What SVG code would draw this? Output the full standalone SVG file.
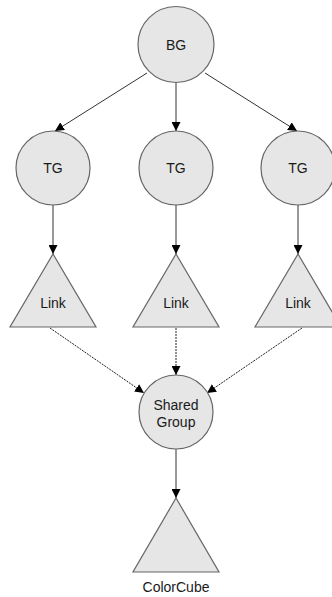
<svg xmlns="http://www.w3.org/2000/svg" width="332" height="597" viewBox="0 0 332 597">
  <style>
    .shape { fill: #e6e6e6; stroke: #666666; stroke-width: 1.2; }
    .label { font-family: "Liberation Sans", Arial, sans-serif; font-size: 14px; fill: #1a1a1a; text-anchor: middle; }
    .edge { fill: none; stroke: #333333; stroke-width: 1; }
    .ref { stroke: #222222; stroke-dasharray: 2 1; }
  </style>
  <defs>
    <marker id="arrow" viewBox="0 0 10 10" refX="10" refY="5" markerUnits="userSpaceOnUse" markerWidth="9" markerHeight="9" orient="auto">
      <path d="M0,0 L10,5 L0,10 z" fill="#000000"/>
    </marker>
  </defs>
  <rect width="332" height="597" fill="#ffffff"/>

  <g id="connectors">
    <line class="edge" x1="147" y1="73" x2="55" y2="131" marker-end="url(#arrow)"/>
    <line class="edge" x1="176" y1="82" x2="176" y2="131" marker-end="url(#arrow)"/>
    <line class="edge" x1="205" y1="73" x2="297" y2="131" marker-end="url(#arrow)"/>
    <line class="edge" x1="53" y1="205" x2="53" y2="254" marker-end="url(#arrow)"/>
    <line class="edge" x1="176" y1="205" x2="176" y2="254" marker-end="url(#arrow)"/>
    <line class="edge" x1="298" y1="205" x2="298" y2="254" marker-end="url(#arrow)"/>
    <line class="edge ref" x1="50" y1="328" x2="144" y2="393" marker-end="url(#arrow)"/>
    <line class="edge ref" x1="176" y1="328" x2="176" y2="375" marker-end="url(#arrow)"/>
    <line class="edge ref" x1="302" y1="328" x2="207" y2="393" marker-end="url(#arrow)"/>
    <line class="edge" x1="176" y1="449" x2="176" y2="498" marker-end="url(#arrow)"/>
  </g>

  <g id="bg">
    <circle class="shape" cx="176" cy="44.5" r="38"/>
    <text class="label" x="176" y="50">BG</text>
  </g>

  <g id="tg-left">
    <circle class="shape" cx="53" cy="168" r="37"/>
    <text class="label" x="53" y="173">TG</text>
  </g>
  <g id="tg-middle">
    <circle class="shape" cx="176" cy="168" r="37"/>
    <text class="label" x="176" y="173">TG</text>
  </g>
  <g id="tg-right">
    <circle class="shape" cx="298" cy="168" r="37"/>
    <text class="label" x="298" y="173">TG</text>
  </g>

  <g id="link-left">
    <polygon class="shape" points="53,254 10,327 96,327"/>
    <text class="label" x="53" y="308">Link</text>
  </g>
  <g id="link-middle">
    <polygon class="shape" points="176,254 133,327 219,327"/>
    <text class="label" x="176" y="308">Link</text>
  </g>
  <g id="link-right">
    <polygon class="shape" points="298,254 255,327 341,327"/>
    <text class="label" x="298" y="308">Link</text>
  </g>

  <g id="shared-group">
    <circle class="shape" cx="176" cy="412" r="37"/>
    <text class="label" x="176" y="410">Shared</text>
    <text class="label" x="176" y="427">Group</text>
  </g>

  <g id="colorcube">
    <polygon class="shape" points="176,498 133,572 219,572"/>
    <text class="label" x="176" y="592">ColorCube</text>
  </g>
</svg>
